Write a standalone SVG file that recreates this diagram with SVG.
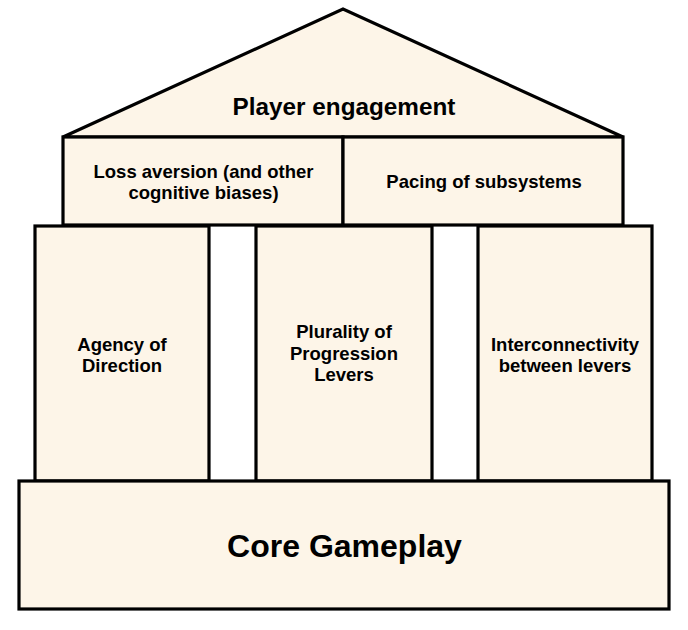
<svg xmlns="http://www.w3.org/2000/svg" width="688" height="630" viewBox="0 0 688 630">
<style>
.n{fill:#fdf5e8;stroke:#000;stroke-width:3.2;stroke-linejoin:miter}
.t{font-family:"Liberation Sans",Arial,sans-serif;font-weight:bold;fill:#000;text-anchor:middle}
.s{font-size:18.5px}
</style>
<rect width="688" height="630" fill="#fff"/>
<g id="roof">
<polygon class="n" points="63,137 343,9 623,137"/>
<text class="t" x="344" y="115" font-size="24.3">Player engagement</text>
</g>
<g id="loss-aversion">
<rect class="n" x="63" y="137" width="280" height="88"/>
<text class="t s" x="203.5" y="177.5">Loss aversion (and other</text>
<text class="t s" x="203.5" y="199">cognitive biases)</text>
</g>
<g id="pacing">
<rect class="n" x="343" y="137" width="280" height="88"/>
<text class="t s" x="484" y="188">Pacing of subsystems</text>
</g>
<g id="agency">
<rect class="n" x="35" y="226" width="174" height="255"/>
<text class="t s" x="122" y="350.5">Agency of</text>
<text class="t s" x="122" y="372">Direction</text>
</g>
<g id="plurality">
<rect class="n" x="256" y="226" width="176" height="255"/>
<text class="t s" x="344" y="338">Plurality of</text>
<text class="t s" x="344" y="359.5">Progression</text>
<text class="t s" x="344" y="381">Levers</text>
</g>
<g id="interconnectivity">
<rect class="n" x="478" y="226" width="174" height="255"/>
<text class="t s" x="565" y="350.5">Interconnectivity</text>
<text class="t s" x="565" y="372">between levers</text>
</g>
<g id="core">
<rect class="n" x="19" y="481" width="650" height="128"/>
<text class="t" x="344.5" y="557" font-size="32">Core Gameplay</text>
</g>
<g id="connectors"></g>
</svg>
